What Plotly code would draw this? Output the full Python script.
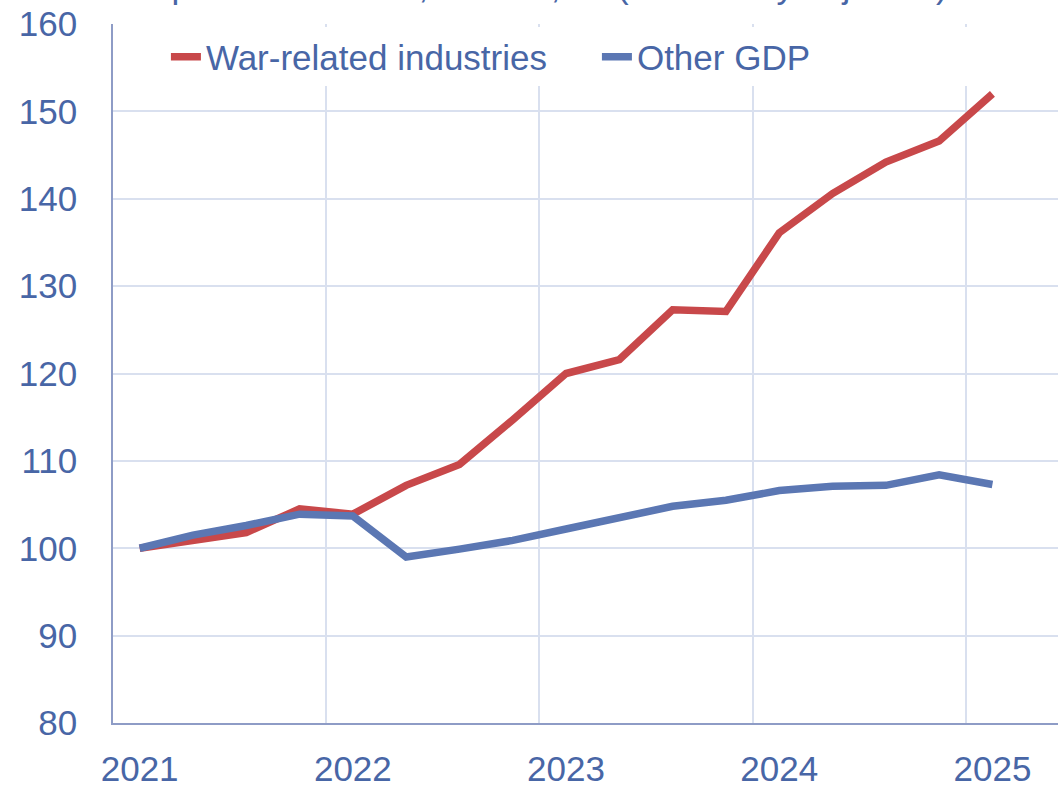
import plotly.graph_objects as go

quarters = ["2021Q1", "2021Q2", "2021Q3", "2021Q4",
            "2022Q1", "2022Q2", "2022Q3", "2022Q4",
            "2023Q1", "2023Q2", "2023Q3", "2023Q4",
            "2024Q1", "2024Q2", "2024Q3", "2024Q4",
            "2025Q1"]
war_related = [100.0, 101.0, 101.8, 104.5, 103.9, 107.2, 109.6, 114.7, 120.0,
               121.6, 127.3, 127.1, 136.1, 140.6, 144.2, 146.6, 152.0]
other_gdp = [100.0, 101.5, 102.6, 103.9, 103.7, 99.0, 99.9, 100.9, 102.2,
             103.4, 104.8, 105.5, 106.6, 107.1, 107.2, 108.4, 107.3]
year_labels = ["2021", "2022", "2023", "2024", "2025"]
y_ticks = [80, 90, 100, 110, 120, 130, 140, 150, 160]
title_text = "Output of industries, volume, sa (seasonally adjusted)"

x_idx = list(range(len(quarters)))
year_pos = [i for i, q in enumerate(quarters) if q.endswith("Q1")]
year_bounds = [p - 0.5 for p in year_pos if p > 0]

RED = "#C8484A"
BLUE = "#5B77B3"
TXT = "#4866A6"
GRID = "#D9E0EF"
AXIS = "#8E9CC6"
FONT = "Liberation Sans, Arial, sans-serif"

fig = go.Figure()
fig.add_trace(go.Scatter(x=x_idx, y=war_related, mode="lines", name="War-related industries",
                         line=dict(color=RED, width=7.5)))
fig.add_trace(go.Scatter(x=x_idx, y=other_gdp, mode="lines", name="Other GDP",
                         line=dict(color=BLUE, width=7.5)))

fig.update_layout(
    width=1058, height=789,
    margin=dict(l=113, r=0, t=24, b=66, autoexpand=False),
    paper_bgcolor="white", plot_bgcolor="white",
    font=dict(family=FONT, color=TXT, size=35),
    showlegend=True,
    legend=dict(orientation="h", x=0.056, y=0.995, xanchor="left", yanchor="top",
                bgcolor="white", font=dict(size=35, color=TXT), itemwidth=30,
                entrywidth=386, entrywidthmode="pixels",
                traceorder="normal"),
    annotations=[dict(text=title_text, xref="paper", yref="paper", x=0, y=1,
                      xanchor="left", yanchor="bottom", yshift=17, showarrow=False,
                      font=dict(size=35, color=TXT, family=FONT))],
)
fig.update_xaxes(range=[-0.5, 17.23], tickmode="array", tickvals=year_pos, ticktext=year_labels,
                 showgrid=False, zeroline=False, showline=True, linecolor=AXIS, linewidth=1.5,
                 ticks="", ticklabelstandoff=14, tickfont=dict(size=35, color=TXT),
                 automargin=False,
                 minor=dict(tickmode="array", tickvals=year_bounds, showgrid=True,
                            gridcolor=GRID, gridwidth=1.5, ticks=""))
fig.update_yaxes(range=[80, 160], tickmode="array", tickvals=y_ticks,
                 showgrid=True, gridcolor=GRID, gridwidth=1.5, zeroline=False,
                 showline=True, linecolor=AXIS, linewidth=1.5, ticks="", automargin=False,
                 ticklabelstandoff=27, tickfont=dict(size=35, color=TXT))

fig.write_html("out.html", config={"displayModeBar": False},
               post_script="document.body.style.margin='0';document.body.style.overflow='hidden';")
